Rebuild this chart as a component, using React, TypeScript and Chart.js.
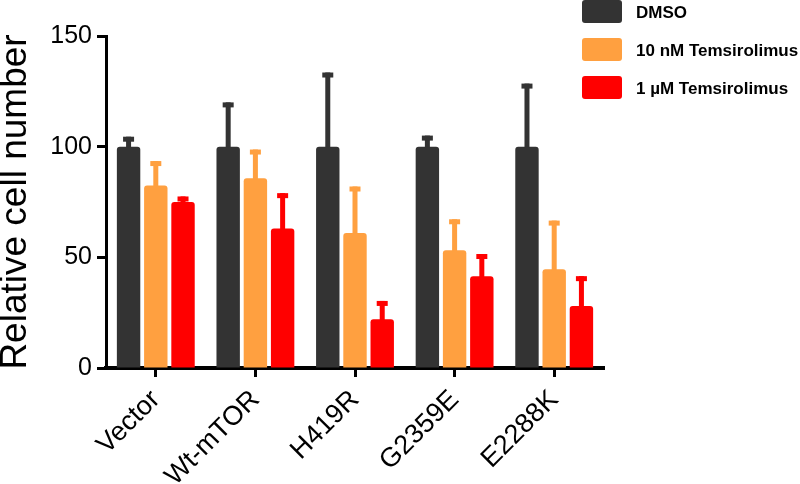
import React, { useEffect, useRef } from 'react';
import { Chart, registerables } from 'chart.js';

Chart.register(...registerables);

const categories = ['Vector', 'Wt-mTOR', 'H419R', 'G2359E', 'E2288K'];
const seriesLabels = ['DMSO', '10 nM Temsirolimus', '1 µM Temsirolimus'];
const dmso = [100, 100, 100, 100, 100];
const dmsoErr = [4.5, 20, 33.5, 5, 28.5];
const tem10nM = [82.5, 85.7, 61, 53.2, 44.6];
const tem10nMErr = [11, 13, 21, 14, 22];
const tem1uM = [75, 63, 22, 41.5, 28];
const tem1uMErr = [2.5, 16, 8.3, 10, 13.5];
const yTicks = [0, 50, 100, 150];

const colors = ['#333333', '#FFA040', '#FF0000'];
const FONT = "'Liberation Sans', Arial, sans-serif";

const errorBarPlugin = {
  id: 'errorBars',
  afterDatasetsDraw(chart: any) {
    const ctx = chart.ctx;
    const yScale = chart.scales.y;
    chart.data.datasets.forEach((ds: any, i: number) => {
      const meta = chart.getDatasetMeta(i);
      meta.data.forEach((bar: any, j: number) => {
        const v = ds.data[j];
        const e = ds.errors[j];
        const yTop = yScale.getPixelForValue(v + e);
        const yBar = bar.y;
        ctx.save();
        ctx.fillStyle = ds.backgroundColor;
        const lw = 5;
        const capW = 11;
        const capH = 5;
        ctx.fillRect(bar.x - lw / 2, yTop, lw, yBar - yTop + 1);
        ctx.fillRect(bar.x - capW / 2, yTop, capW, capH);
        ctx.restore();
      });
    });
  },
};

const legendPlugin = {
  id: 'customLegend',
  afterDraw(chart: any) {
    const ctx = chart.ctx;
    const x0 = 582;
    const y0 = 0;
    const sw = 40;
    const sh = 23;
    const gap = 38;
    ctx.save();
    chart.data.datasets.forEach((ds: any, i: number) => {
      const y = y0 + i * gap;
      ctx.fillStyle = ds.backgroundColor;
      ctx.beginPath();
      (ctx as any).roundRect(x0, y, sw, sh, 3);
      ctx.fill();
      ctx.fillStyle = '#000';
      ctx.font = `bold 17px ${FONT}`;
      ctx.textBaseline = 'middle';
      ctx.textAlign = 'left';
      ctx.fillText(ds.label, 636, y + sh / 2 + 2);
    });
    ctx.restore();
  },
};

export default function App() {
  const ref = useRef<HTMLCanvasElement | null>(null);
  useEffect(() => {
    if (!ref.current) return;
    const makeDs = (label: string, data: number[], errors: number[], color: string) => ({
      label,
      data,
      errors,
      backgroundColor: color,
      borderWidth: 0,
      borderRadius: 3,
      categoryPercentage: 0.82,
      barPercentage: 0.86,
    });
    const chart = new Chart(ref.current, {
      type: 'bar',
      data: {
        labels: categories,
        datasets: [
          makeDs(seriesLabels[0], dmso, dmsoErr, colors[0]),
          makeDs(seriesLabels[1], tem10nM, tem10nMErr, colors[1]),
          makeDs(seriesLabels[2], tem1uM, tem1uMErr, colors[2]),
        ] as any,
      },
      options: {
        animation: false,
        responsive: false,
        layout: { padding: { top: 36, right: 196, left: 0, bottom: 0 } },
        plugins: { legend: { display: false }, tooltip: { enabled: false } },
        scales: {
          x: {
            offset: true,
            grid: {
              display: true,
              drawOnChartArea: false,
              drawTicks: true,
              tickLength: 9,
              tickWidth: 3,
              tickColor: '#000',
              offset: false,
            },
            border: { color: '#000', width: 4 },
            ticks: {
              font: { family: FONT, size: 27 },
              color: '#000',
              maxRotation: 45,
              minRotation: 45,
              padding: 7,
            },
            afterFit: (s: any) => { s.height = 116; },
          },
          y: {
            min: 0,
            max: 150,
            afterBuildTicks: (s: any) => { s.ticks = yTicks.map((v) => ({ value: v })); },
            grid: {
              display: true,
              drawOnChartArea: false,
              drawTicks: true,
              tickLength: 9,
              tickWidth: 3,
              tickColor: '#000',
            },
            border: { color: '#000', width: 3 },
            ticks: {
              font: { family: FONT, size: 25 },
              color: '#000',
              padding: 5,
            },
            title: {
              display: true,
              text: 'Relative cell number',
              font: { family: FONT, size: 37, lineHeight: 0.84 },
              color: '#000',
              padding: 0,
            },
            afterFit: (s: any) => { s.width = 106; },
          },
        },
      },
      plugins: [errorBarPlugin, legendPlugin],
    });
    return () => chart.destroy();
  }, []);
  return (
    <div style={{ position: 'absolute', left: 0, top: 0, width: 800, height: 484, background: '#fff' }}>
      <canvas ref={ref} width={800} height={484} />
    </div>
  );
}
